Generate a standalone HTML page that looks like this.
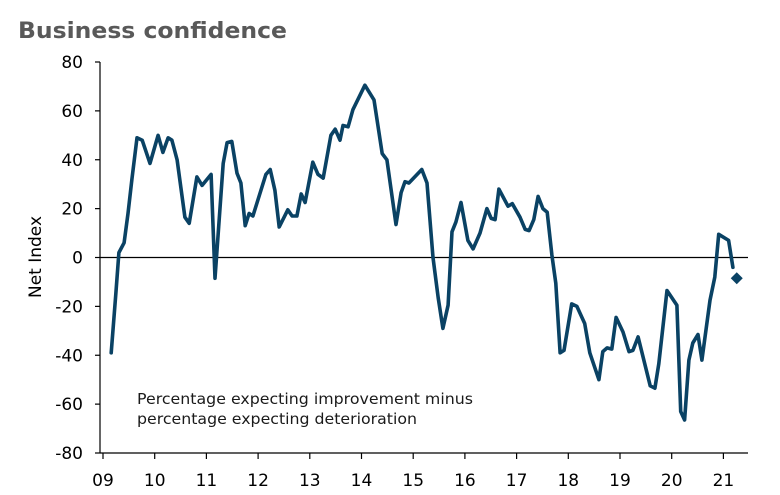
<!DOCTYPE html>
<html><head><meta charset="utf-8"><style>
body{margin:0;background:#fff;}
svg{display:block;font-family:"DejaVu Sans","Liberation Sans",sans-serif;}
</style></head><body>
<svg id="chart" width="780" height="495" viewBox="0 0 780 495">
<text x="18" y="38" font-size="22" font-weight="bold" fill="#595959" textLength="269" lengthAdjust="spacingAndGlyphs">Business confidence</text>
<text transform="translate(41,257) rotate(-90)" text-anchor="middle" font-size="17" fill="#000">Net Index</text>
<g id="yaxis"></g>
<g id="xaxis"></g>
<line x1="100" x2="748" y1="257.5" y2="257.5" stroke="#000" stroke-width="1.2"/>
<g id="series"></g>
<text x="137" y="404" font-size="15" fill="#1a1a1a" textLength="336" lengthAdjust="spacingAndGlyphs">Percentage expecting improvement minus</text>
<text x="137" y="424" font-size="15" fill="#1a1a1a" textLength="280" lengthAdjust="spacingAndGlyphs">percentage expecting deterioration</text>
</svg>
<script>
// months since Jan 2009
const months = [1.9,3.0,3.7,4.9,5.8,6.7,7.9,9.1,10.9,12.8,13.9,15.1,16.0,17.2,19.0,20.0,21.8,23.0,25.1,26.0,27.9,28.8,29.9,31.1,32.0,33.0,33.9,34.8,37.8,38.8,39.9,40.9,42.9,43.9,45.0,46.0,46.9,48.7,49.9,51.1,52.9,53.9,55.0,55.7,56.9,58.0,60.8,62.9,64.8,65.9,68.0,69.2,70.1,71.0,74.0,75.2,76.6,77.8,78.9,80.1,81.0,81.9,83.1,84.7,85.9,87.5,89.1,90.1,91.0,91.9,94.0,95.0,96.8,98.0,98.9,100.0,101.0,102.1,103.1,104.2,105.1,106.1,107.0,108.8,110.0,111.8,113.0,115.1,116.0,117.0,118.1,119.1,120.7,122.1,123.0,124.2,127.0,128.1,129.0,130.9,133.2,134.1,135.0,136.0,136.9,138.1,139.0,140.9,142.0,142.9,145.2,146.2];
const values = [-39,-14.5,2,6,18,32,49,48,38.5,50,43,49,48,40,16.5,14,33,29.5,34,-8.5,38.5,47,47.5,34.5,30.5,13,18,17,34,36,27.5,12.5,19.5,17,17,26,22.5,39,34,32.5,50,52.5,48,54,53.5,60.5,70.5,64.5,42.5,40,13.5,26.5,31,30.5,36,30.5,0,-16.5,-29,-19.5,10.5,14.5,22.5,7,3.5,10,20,16,15.5,28,21,22,16.5,11.5,11,15.5,25,20,18.5,1,-10.5,-39,-38,-19,-20,-27,-39,-50,-38.5,-37,-37.5,-24.5,-30.5,-38.5,-38,-32.5,-52.5,-53.5,-43.5,-13.5,-19.5,-63,-66.5,-42,-35,-31.5,-42,-17.5,-8,9.5,7,-4];
const forecastMonth = [147.1];
const forecastValue = [-8.5];
const yTicks = [80,60,40,20,0,-20,-40,-60,-80];
const xTickLabels = ["09","10","11","12","13","14","15","16","17","18","19","20","21"];

const NS="http://www.w3.org/2000/svg";
const x0=103, pxPerYear=51.7;
const xs = m => x0 + m/12*pxPerYear;
const ys = v => 257.5 - v*(391/160);
function mk(tag,attrs,parent){const e=document.createElementNS(NS,tag);for(const k in attrs)e.setAttribute(k,attrs[k]);parent.appendChild(e);return e;}
const yg=document.getElementById('yaxis'), xg=document.getElementById('xaxis'), sg=document.getElementById('series');
mk('line',{x1:100,x2:100,y1:ys(80),y2:ys(-80),stroke:'#000','stroke-width':1.2},yg);
yTicks.forEach(v=>{
  const t=mk('line',{x1:95,x2:100,y1:ys(v),y2:ys(v),stroke:'#000','stroke-width':1.2},yg);
  
  
  const l=mk('text',{x:83,y:ys(v)+6,'text-anchor':'end','font-size':17,fill:'#000'},yg);
  l.textContent=v;
  
  
});
mk('line',{x1:100,x2:748,y1:ys(-80),y2:ys(-80),stroke:'#000','stroke-width':1.2},xg);
xTickLabels.forEach((lab,i)=>{
  const x=x0+i*pxPerYear;
  const t=mk('line',{x1:x,x2:x,y1:ys(-80),y2:ys(-80)+6,stroke:'#000','stroke-width':1.2},xg);
  
  
  const l=mk('text',{x:x,y:486,'text-anchor':'middle','font-size':17,fill:'#000'},xg);
  l.textContent=lab;
  
  
});
const d=months.map((m,i)=>(i?'L':'M')+xs(m).toFixed(1)+','+ys(values[i]).toFixed(1)).join('');
const p=mk('path',{d:d,fill:'none',stroke:'#0a4264','stroke-width':3.6,'stroke-linejoin':'round','stroke-linecap':'round'},sg);


forecastMonth.forEach((m,i)=>{
  const cx=xs(m), cy=ys(forecastValue[i]), r=6;
  const dm=mk('polygon',{points:`${cx},${cy-r} ${cx+r},${cy} ${cx},${cy+r} ${cx-r},${cy}`,fill:'#0a4264'},sg);
  
  
});
</script>
</body></html>
